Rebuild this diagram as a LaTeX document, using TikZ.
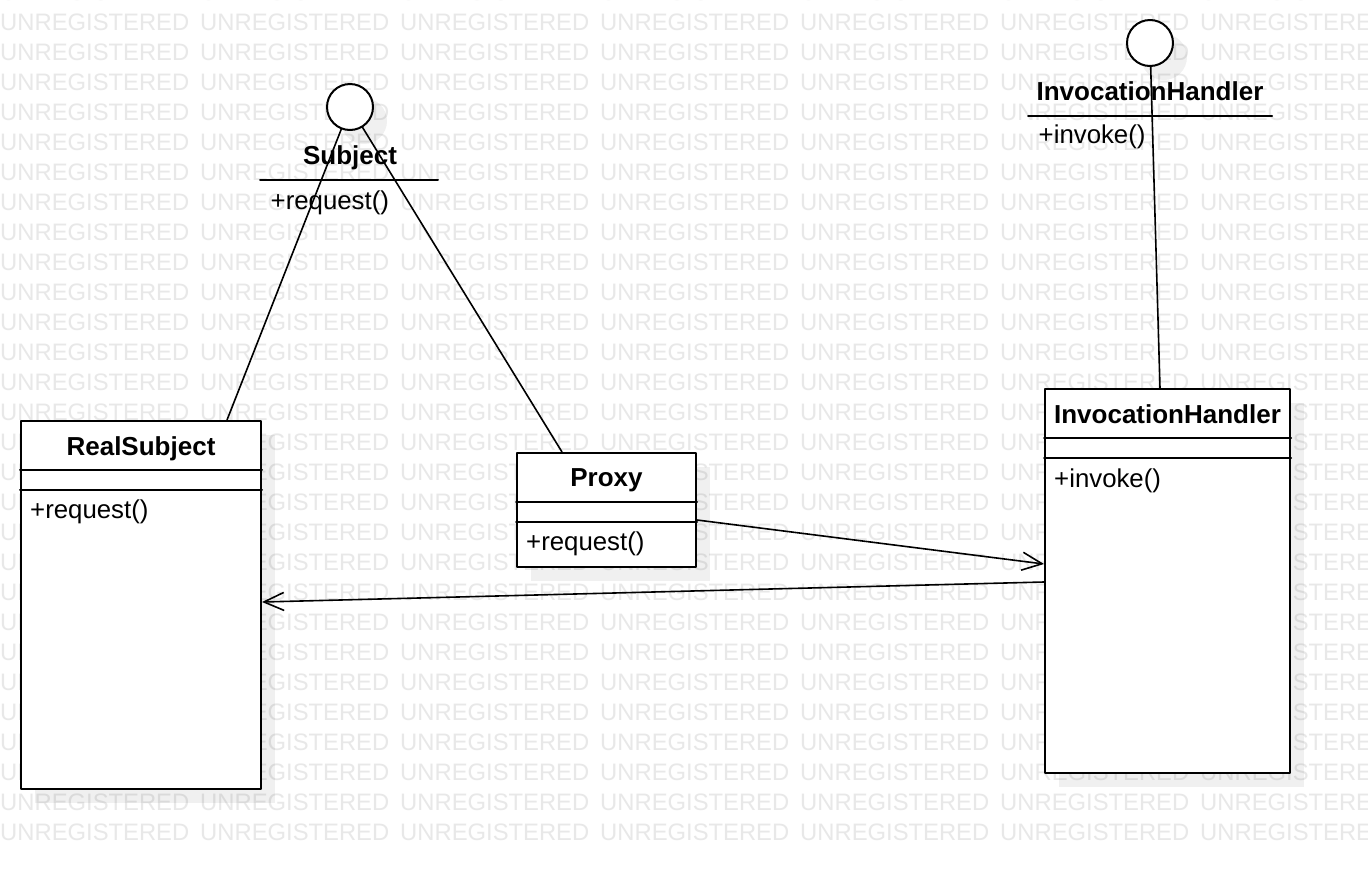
\documentclass[tikz,border=0pt]{standalone}
\usepackage{fontspec}
\setmainfont{Liberation Sans}
\usetikzlibrary{arrows.meta,shadows}
\definecolor{watermarkgray}{HTML}{E8E8E8}

\begin{document}
\begin{tikzpicture}[x=1pt,y=-1pt,>={Straight Barb[length=20pt,width=18pt]},line cap=round,line join=round,
    umlshadow/.style={drop shadow={shadow xshift=14pt,shadow yshift=-14pt,fill=black,opacity=0.06}},
    umlbox/.style={draw,line width=2pt,fill=white,inner sep=0pt,anchor=north west,umlshadow},
    iface/.style={draw,circle,line width=2pt,fill=white,minimum size=46pt,inner sep=0pt,umlshadow},
    cname/.style={font=\fontsize{26}{30}\selectfont\bfseries,anchor=base,inner sep=0pt},
    member/.style={font=\fontsize{25.8}{30}\selectfont,anchor=west,inner sep=0pt},
    wmark/.style={font=\fontsize{23.8}{28}\selectfont,text=watermarkgray,anchor=base west,inner sep=0pt},
    sepline/.style={line width=2pt},
    link/.style={line width=1.6pt}]
    \useasboundingbox (0,0) rectangle (1368,868);
    \clip (0,0) rectangle (1368,868);
    \fill[white] (0,0) rectangle (1368,868);
    \foreach \row in {0,...,28}{
        \foreach \col in {0,...,6}{\node[wmark] (wm-\row-\col) at (200*\col,30*\row) {UNREGISTERED};}
    }

    \node[umlbox,minimum width=240pt,minimum height=368pt] (real) at (20,420) {};
    \node[umlbox,minimum width=179pt,minimum height=114pt] (proxy) at (516,452) {};
    \node[umlbox,minimum width=245pt,minimum height=384pt] (handler) at (1044,388) {};
    \foreach \b in {real,proxy,handler}{
        \draw[sepline] ([yshift=-50pt]\b.north west) -- ([yshift=-50pt]\b.north east);
        \draw[sepline] ([yshift=-70pt]\b.north west) -- ([yshift=-70pt]\b.north east);
    }
    \node[cname] (realName) at ([yshift=-35pt]real.north) {RealSubject};
    \node[member] (realOp) at ([xshift=10pt,yshift=-92pt]real.north west) {+request()};
    \node[cname] (proxyName) at ([yshift=-34pt]proxy.north) {Proxy};
    \node[member] (proxyOp) at ([xshift=10pt,yshift=-92pt]proxy.north west) {+request()};
    \node[cname] (handlerName) at ([yshift=-35pt]handler.north) {InvocationHandler};
    \node[member] (handlerOp) at ([xshift=10pt,yshift=-93pt]handler.north west) {+invoke()};

    \node[iface] (subject) at (350,107) {};
    \node[cname] (subjectName) at (350,164) {Subject};
    \draw[sepline] (260,179.5) -- (438,179.5);
    \node[member] (subjectOp) at (270.5,203) {+request()};

    \node[iface] (handlerIf) at (1150,43) {};
    \node[cname] (handlerIfName) at (1150,100) {InvocationHandler};
    \draw[sepline] (1028,116) -- (1272,116);
    \node[member] (handlerIfOp) at (1038.5,137) {+invoke()};

    \draw[link] (subject) -- ([xshift=207pt]real.north west);
    \draw[link] (subject) -- ([xshift=46pt]proxy.north west);
    \draw[link] (handlerIf) -- ([xshift=116pt]handler.north west);
    \draw[link,->] ([yshift=-68pt]proxy.north east) -- ([yshift=-176pt]handler.north west);
    \draw[link,->] ([yshift=-194pt]handler.north west) -- ([yshift=-182pt]real.north east);
\end{tikzpicture}
\end{document}
